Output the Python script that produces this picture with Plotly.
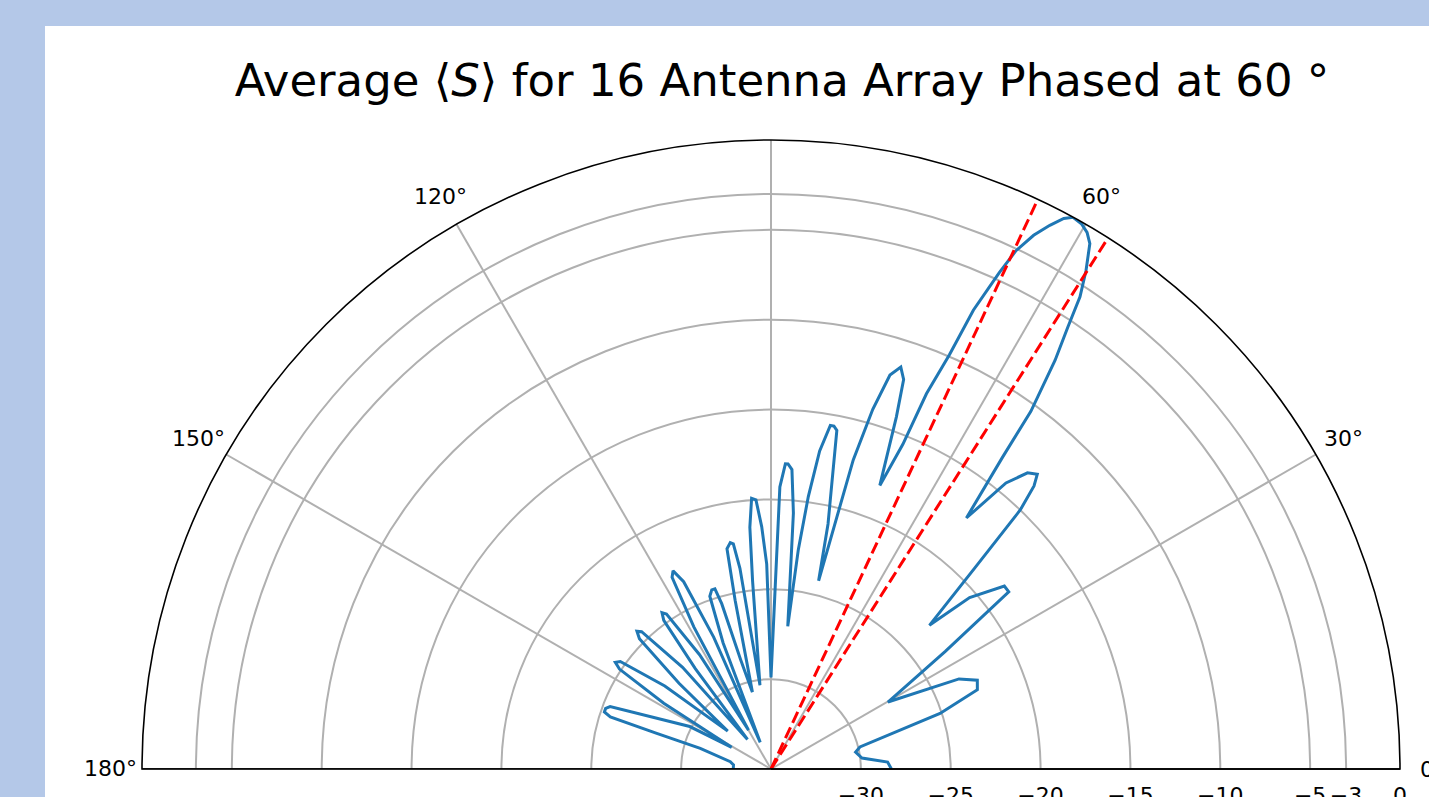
import math
import plotly.graph_objects as go

# Averaged radiation pattern: angle in degrees, level in dB
theta_deg = [
    0.0, 3.4, 6.9, 11.3, 13.9, 18.2, 21.0, 23.3, 25.6, 29.8,
    34.0, 36.7, 38.1, 40.8, 42.2,
    44.6, 46.1, 47.1, 47.9, 49.1, 50.6, 52.1,
    53.4, 54.0, 55.2, 56.1, 56.8, 57.7, 58.75, 59.5, 60.3, 61.3, 62.0, 62.85,
    63.8, 64.7, 65.3, 66.2, 66.7, 67.5, 67.9, 69.0,
    70.4, 71.2, 72.1, 73.2, 74.2, 75.1, 75.8,
    76.9, 79.0, 79.6, 80.2, 81.3, 82.2, 82.9, 83.3,
    85.0, 86.0, 86.8, 87.3, 88.2, 90.0,
    91.2, 92.2, 93.2, 94.1, 95.0, 95.6, 97.5,
    98.8, 99.5, 100.2, 101.3, 102.0, 103.6,
    105.5, 106.6, 107.3, 108.3, 109.5, 110.8, 112.0,
    113.5, 115.0, 116.3, 117.3, 118.5, 120.0,
    122.0, 124.0, 124.9, 125.8, 127.0, 128.5,
    131.0, 133.3, 134.2, 135.3, 137.0, 138.8,
    142.0, 144.5, 145.6, 146.6, 148.5, 151.1,
    152.4, 158.8, 159.9, 161.1, 162.0, 162.7, 163.7, 169.9, 173.8, 180.0,
]
gain_db = [
    -28.3, -28.5, -29.9, -30.2, -29.9, -25.1, -22.7, -22.5, -23.4, -27.5,
    -23.3, -18.5, -18.5, -20.4, -23.1,
    -19.1, -15.0, -13.5, -12.9, -13.2, -14.4, -17.3,
    -13.4, -10.4, -7.3, -5.4, -3.6, -2.2, -0.8, -0.35, -0.1, 0.0, -0.3, -1.0,
    -1.9, -3.1, -4.6, -7.1, -9.9, -12.4, -15.5, -18.1,
    -14.2, -12.1, -11.5, -12.1, -14.2, -17.2, -24.2,
    -21.0, -15.8, -15.6, -15.6, -17.1, -19.7, -22.7, -27.0,
    -20.7, -18.3, -18.0, -18.0, -19.3, -29.9,
    -23.6, -21.5, -20.0, -19.9, -21.5, -24.5, -30.3,
    -23.7, -22.3, -22.2, -22.5, -25.4, -30.6,
    -28.7, -25.4, -24.5, -24.5, -24.8, -27.5, -33.4,
    -27.0, -23.5, -22.7, -23.0, -26.0, -32.5,
    -27.5, -24.6, -24.4, -24.8, -28.0, -32.9,
    -27.5, -24.5, -24.3, -24.7, -28.0, -31.8,
    -27.5, -24.7, -24.5, -24.9, -28.0, -32.5,
    -29.9, -25.4, -25.2, -25.2, -25.6, -28.3, -30.9, -32.7, -32.9, -32.9,
]

# Half-power beam edges (degrees)
beam_edges = [57.6, 64.9]

radial_ticks = [-30, -25, -20, -15, -10, -5, -3, 0]
radial_labels = ["\u221230", "\u221225", "\u221220", "\u221215", "\u221210", "\u22125", "\u22123", "0"]
angle_ticks = [0, 30, 60, 90, 120, 150, 180]
angle_labels = ["0°", "30°", "60°", "", "120°", "150°", "180°"]
r_min, r_max = -35, 0

W, H = 1429, 797
BLUE_BG = "#b4c8e8"
# polar area geometry in pixels (half disk)
CX, CY, R = 771, 769, 629
LABEL_PAD = 32

fig = go.Figure()

fig.add_trace(go.Scatterpolar(
    theta=theta_deg, r=gain_db, mode="lines",
    line=dict(color="#1f77b4", width=3), showlegend=False))

for a in beam_edges:
    fig.add_trace(go.Scatterpolar(
        theta=[a, a], r=[r_min, r_max], mode="lines",
        line=dict(color="#ff0000", width=3, dash="12px,5px"), showlegend=False))

# baseline on the 180 degree side
fig.add_trace(go.Scatterpolar(
    theta=[180, 180], r=[r_min, r_max], mode="lines",
    line=dict(color="black", width=1.6), showlegend=False))

# angular tick labels, centred just outside the rim (matplotlib style)
annotations = []
for a, lab in zip(angle_ticks, angle_labels):
    if not lab:
        continue
    rad = math.radians(a)
    px = CX + (R + LABEL_PAD) * math.cos(rad)
    py = CY - (R + LABEL_PAD) * math.sin(rad)
    annotations.append(dict(text=lab, x=px / W, y=1 - py / H, xref="paper", yref="paper",
                            xanchor="center", yanchor="middle", showarrow=False,
                            font=dict(size=22, family="DejaVu Sans", color="black")))

fig.update_layout(
    width=W, height=H, autosize=False,
    margin=dict(l=0, r=0, t=0, b=0),
    paper_bgcolor=BLUE_BG,
    font=dict(family="DejaVu Sans", color="black"),
    shapes=[dict(type="rect", xref="paper", yref="paper",
                 x0=45 / W, x1=1.05, y0=-0.05, y1=1 - 26 / H,
                 fillcolor="white", line=dict(width=0), layer="below")],
    annotations=annotations,
    title=dict(text="Average \u27e8<i>S</i>\u27e9 for 16 Antenna Array Phased at 60 °",
               x=782 / W, xanchor="center", y=1 - 80 / H, yanchor="middle",
               font=dict(size=45, family="DejaVu Sans", color="black")),
    polar=dict(
        domain=dict(x=[(CX - R) / W, (CX + R) / W], y=[1 - CY / H, 1 - (CY - R) / H]),
        sector=[0, 180],
        bgcolor="white",
        radialaxis=dict(range=[r_min, r_max], tickvals=radial_ticks, ticktext=radial_labels,
                        angle=0, side="clockwise", showline=True, linecolor="black",
                        linewidth=1.6, gridcolor="#b0b0b0", gridwidth=1.5,
                        ticks="outside", ticklen=7, tickcolor="rgba(0,0,0,0)",
                        tickfont=dict(size=22, color="black")),
        angularaxis=dict(tickvals=angle_ticks, showticklabels=False,
                         direction="counterclockwise", rotation=0,
                         linecolor="black", linewidth=1.6, gridcolor="#b0b0b0",
                         gridwidth=1.5, ticks=""),
    ),
)

fig.write_html("out.html",
               config={"displayModeBar": False},
               post_script="document.body.style.margin='0px';"
                           "document.body.style.background='%s';" % BLUE_BG)
